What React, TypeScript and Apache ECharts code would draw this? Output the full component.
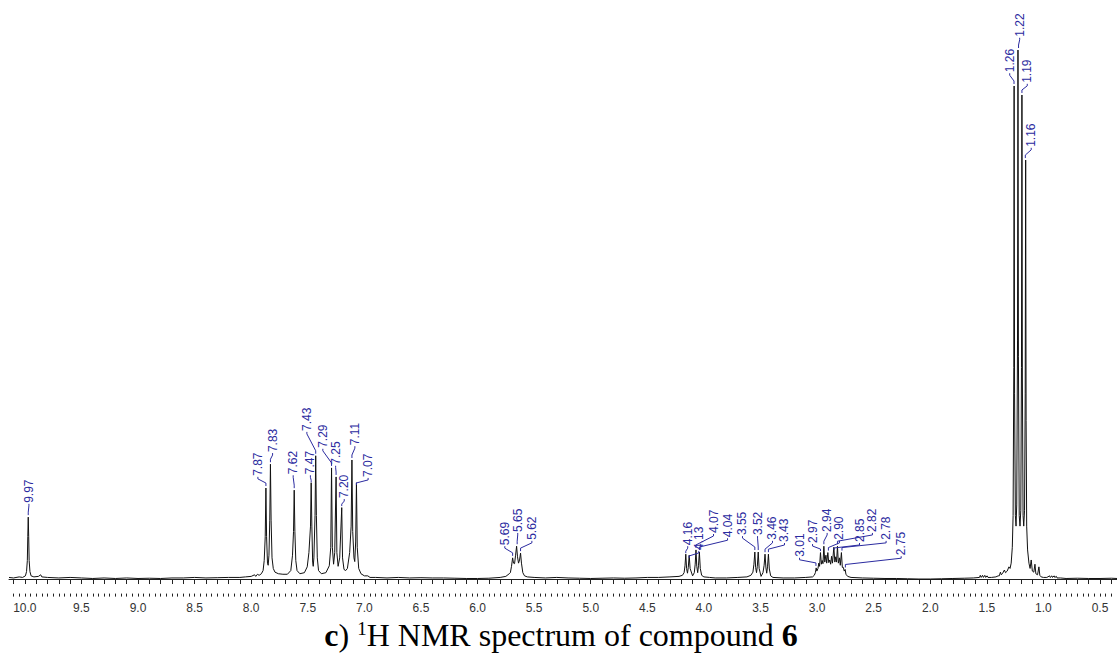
import React, { useEffect, useRef } from "react";
import * as echarts from "echarts";

// Chemical-shift axis (ppm), inverted as in NMR plots
const axisMin = 0.35;
const axisMax = 10.14;
const tickLabels = [10.0, 9.5, 9.0, 8.5, 8.0, 7.5, 7.0, 6.5, 6.0, 5.5, 5.0, 4.5, 4.0, 3.5, 3.0, 2.5, 2.0, 1.5, 1.0, 0.5];

// Spectrum trace: [ppm, relative intensity (1.22 ppm line = 100)]
const baselineLow: [number, number][] = [
  [10.14, 0.3], [10.1, 0.2], [10.05, 0.4], [10.02, 0.3],
];
const aldehyde: [number, number][] = [
  [9.995, 0.6], [9.985, 1.4], [9.978, 3.5], [9.974, 8.0], [9.97, 11.7], [9.966, 8.0], [9.962, 3.5],
  [9.955, 1.4], [9.945, 0.6], [9.92, 0.4], [9.88, 0.5], [9.86, 0.8], [9.85, 0.4], [9.8, 0.3],
  [9.7, 0.2], [9.6, 0.3], [9.5, 0.2], [9.4, 0.1], [9.3, 0.2], [9.2, 0.1], [9.1, 0.2], [9.0, 0.1],
  [8.9, 0.15], [8.8, 0.1], [8.7, 0.2], [8.6, 0.2], [8.5, 0.3], [8.4, 0.2], [8.3, 0.25], [8.2, 0.3],
  [8.1, 0.3], [8.05, 0.4], [8.0, 0.5], [7.97, 0.8], [7.96, 0.5], [7.945, 0.9], [7.93, 0.7], [7.91, 1.0],
];
const aromatic: [number, number][] = [
  [7.895, 1.6], [7.885, 3.5], [7.876, 8], [7.87, 17.2], [7.864, 8], [7.856, 3.0], [7.85, 2.6],
  [7.843, 4.5], [7.836, 11], [7.83, 21.7], [7.824, 11], [7.816, 4], [7.805, 2.0], [7.79, 1.3],
  [7.76, 1.0], [7.72, 0.9], [7.68, 0.9], [7.65, 1.6], [7.635, 4.5], [7.626, 9], [7.62, 16.8],
  [7.614, 9], [7.606, 3.5], [7.595, 1.6], [7.57, 1.0], [7.53, 1.2], [7.505, 2.3], [7.49, 5],
  [7.476, 10], [7.47, 18.2], [7.464, 10], [7.457, 3.2], [7.452, 2.4], [7.446, 4], [7.436, 12],
  [7.43, 23.3], [7.424, 12], [7.416, 4], [7.405, 1.6], [7.38, 1.0], [7.34, 1.2], [7.31, 2.5],
  [7.297, 6], [7.29, 21.0], [7.283, 6], [7.272, 2.8], [7.262, 5], [7.25, 19.3], [7.243, 5],
  [7.232, 2.4], [7.218, 4], [7.2, 13.5], [7.193, 4], [7.18, 1.8], [7.165, 1.6], [7.15, 2.0],
  [7.13, 5], [7.117, 10], [7.11, 22.5], [7.103, 9], [7.092, 4], [7.085, 3.3], [7.077, 7],
  [7.07, 18.2], [7.063, 6], [7.05, 2.0], [7.03, 1.0], [7.0, 0.6], [6.97, 0.6], [6.95, 0.3],
  [6.9, 0.3], [6.8, 0.2], [6.7, 0.3], [6.6, 0.2], [6.5, 0.25], [6.4, 0.2], [6.3, 0.2], [6.2, 0.15],
  [6.1, 0.1], [6.0, 0.1], [5.9, 0.15], [5.8, 0.3], [5.75, 0.5], [5.72, 1.0],
];
const olefinic: [number, number][] = [
  [5.71, 1.2], [5.7, 2.4], [5.69, 4.0], [5.682, 3.0], [5.673, 2.9], [5.664, 4.5], [5.655, 6.2],
  [5.647, 4.2], [5.638, 3.0], [5.629, 3.6], [5.62, 4.9], [5.612, 3.0], [5.6, 1.2], [5.585, 0.6],
  [5.56, 0.4], [5.5, 0.3], [5.4, 0.2], [5.3, 0.3], [5.2, 0.2], [5.1, 0.15], [5.0, 0.1], [4.9, 0.15],
  [4.8, 0.2], [4.7, 0.15], [4.6, 0.2], [4.5, 0.3], [4.4, 0.3], [4.3, 0.4], [4.22, 0.5], [4.19, 0.7],
];
const oxyMethylene: [number, number][] = [
  [4.175, 1.2], [4.167, 2.5], [4.16, 4.7], [4.153, 2.0], [4.145, 1.1], [4.138, 2.2], [4.13, 4.5],
  [4.122, 2.0], [4.1, 0.6], [4.085, 1.2], [4.077, 2.8], [4.07, 5.5], [4.063, 2.4], [4.055, 1.2],
  [4.048, 2.5], [4.04, 5.1], [4.032, 2.0], [4.02, 0.7], [4.0, 0.4], [3.95, 0.3], [3.9, 0.2],
  [3.8, 0.2], [3.7, 0.3], [3.62, 0.4], [3.585, 0.7],
  [3.567, 1.3], [3.558, 2.8], [3.55, 5.1], [3.543, 2.2], [3.535, 1.2], [3.528, 2.4], [3.52, 5.1],
  [3.512, 2.0], [3.495, 0.5], [3.478, 1.2], [3.468, 2.6], [3.46, 4.7], [3.452, 2.1], [3.445, 1.1],
  [3.438, 2.3], [3.43, 4.7], [3.422, 1.9], [3.41, 0.6], [3.39, 0.3], [3.3, 0.2], [3.2, 0.2],
  [3.1, 0.3], [3.04, 0.4], [3.025, 0.7],
];
const multiplet: [number, number][] = [
  [3.015, 1.2], [3.008, 2.1], [3.002, 1.5], [2.992, 2.0], [2.985, 3.0], [2.978, 2.4], [2.97, 5.0],
  [2.962, 2.8], [2.955, 3.5], [2.948, 2.9], [2.94, 6.2], [2.932, 3.2], [2.922, 4.5], [2.915, 3.0],
  [2.905, 5.0], [2.897, 3.1], [2.888, 3.6], [2.88, 2.8], [2.872, 4.3], [2.864, 3.0], [2.852, 6.0],
  [2.843, 3.2], [2.835, 4.2], [2.828, 3.2], [2.82, 6.2], [2.812, 3.0], [2.802, 4.0], [2.795, 2.6],
  [2.785, 5.0], [2.777, 2.2], [2.768, 2.2], [2.76, 1.5], [2.752, 1.8], [2.745, 0.9], [2.73, 0.5],
  [2.7, 0.3], [2.6, 0.2], [2.5, 0.15], [2.4, 0.1], [2.3, 0.1], [2.2, 0.05], [2.1, 0.0], [2.0, 0.0],
  [1.9, 0.05], [1.8, 0.1], [1.7, 0.15], [1.62, 0.2],
];
const aliphatic: [number, number][] = [
  [1.565, 0.3], [1.558, 0.7], [1.55, 0.3], [1.538, 0.7], [1.53, 0.3], [1.518, 0.7], [1.51, 0.3],
  [1.498, 0.6], [1.49, 0.3], [1.46, 0.3], [1.42, 0.4], [1.4, 0.6], [1.39, 0.6], [1.38, 1.3],
  [1.372, 0.8], [1.36, 1.1], [1.345, 1.7], [1.335, 1.2], [1.32, 1.5], [1.305, 2.3], [1.295, 2.0],
  [1.285, 3.0], [1.275, 6], [1.268, 12], [1.262, 40], [1.259, 93.2], [1.255, 35], [1.248, 12],
  [1.242, 10], [1.236, 14], [1.229, 45], [1.225, 100], [1.221, 42], [1.214, 12], [1.207, 10],
  [1.2, 13], [1.194, 40], [1.19, 91.5], [1.186, 38], [1.18, 12], [1.174, 10], [1.167, 13],
  [1.161, 35], [1.157, 79.2], [1.153, 30], [1.148, 10], [1.14, 5.5], [1.128, 3.0], [1.118, 2.0],
  [1.108, 3.6], [1.098, 1.5], [1.085, 1.3], [1.075, 2.8], [1.067, 1.0], [1.052, 0.8], [1.04, 2.3],
  [1.032, 0.7], [1.02, 0.4], [1.0, 0.3], [0.97, 0.3], [0.945, 0.6], [0.94, 0.3], [0.925, 0.6],
  [0.92, 0.3], [0.905, 0.6], [0.9, 0.3], [0.885, 0.5], [0.88, 0.2], [0.85, 0.2], [0.8, 0.1],
  [0.7, 0.15], [0.6, 0.1], [0.5, 0.1], [0.4, 0.15], [0.35, 0.1],
];

// Peak annotations
const labelPpm = [9.97, 7.87, 7.83, 7.62, 7.47, 7.43, 7.29, 7.25, 7.2, 7.11, 7.07, 5.69, 5.65, 5.62, 4.16, 4.13, 4.07, 4.04, 3.55, 3.52, 3.46, 3.43, 3.01, 2.97, 2.94, 2.9, 2.85, 2.82, 2.78, 2.75, 1.26, 1.22, 1.19, 1.16];
const labelApex = [11.7, 17.2, 21.7, 16.8, 18.2, 23.3, 21.0, 19.3, 13.5, 22.5, 18.2, 4.0, 6.2, 4.9, 4.7, 4.5, 5.5, 5.1, 5.1, 5.1, 4.7, 4.7, 2.1, 5.0, 6.2, 5.0, 6.0, 6.2, 5.0, 1.8, 93.2, 100, 91.5, 79.2];
const labelTextPpm = [9.964, 7.941, 7.811, 7.629, 7.477, 7.508, 7.367, 7.254, 7.178, 7.084, 6.967, 5.759, 5.645, 5.52, 4.143, 4.045, 3.915, 3.791, 3.659, 3.526, 3.394, 3.288, 3.155, 3.04, 2.911, 2.802, 2.625, 2.511, 2.39, 2.257, 1.298, 1.21, 1.143, 1.108];
const labelTextLevel = [14.4, 19.5, 24.0, 19.8, 19.8, 28.0, 24.8, 21.6, 15.3, 25.3, 19.3, 6.4, 8.9, 7.4, 6.4, 5.5, 8.7, 7.9, 8.3, 8.3, 7.4, 7.0, 4.2, 6.8, 8.9, 7.4, 7.0, 8.9, 7.4, 4.5, 95.8, 102.5, 93.8, 81.7];

const BLUE = "#2b2ba0";

export default function App() {
  const ref = useRef<HTMLDivElement>(null);
  useEffect(() => {
    if (!ref.current) return;
    const chart = echarts.init(ref.current, undefined, { renderer: "svg" });
    const spectrum = [...baselineLow, ...aldehyde, ...aromatic, ...olefinic, ...oxyMethylene, ...multiplet, ...aliphatic];
    const tick10: number[] = [];
    for (let k = 4; k <= 101; k++) tick10.push(Math.round(k) / 10);
    const tick05: number[] = [];
    for (let k = 7; k <= 202; k++) tick05.push(Math.round(k * 5) / 100);

    const axisCommon = {
      type: "value" as const,
      min: axisMin,
      max: axisMax,
      inverse: true,
      position: "bottom" as const,
      offset: 4,
      splitLine: { show: false },
    };

    chart.setOption({
      animation: false,
      backgroundColor: "#ffffff",
      grid: { left: 9, right: 0, top: 7.7, bottom: 66.4, containLabel: false },
      xAxis: [
        {
          ...axisCommon,
          axisLine: { show: true, lineStyle: { color: "#222", width: 1 } },
          axisTick: { show: true, inside: false, length: 5, customValues: tick10, lineStyle: { color: "#222", width: 1 } },
          axisLabel: {
            show: true,
            customValues: tickLabels,
            margin: 8,
            color: "#333",
            fontSize: 12,
            fontFamily: '"Liberation Sans", Arial, sans-serif',
            formatter: (v: number) => v.toFixed(1),
          },
        },
        {
          ...axisCommon,
          axisLine: { show: false },
          axisTick: { show: true, inside: false, length: 3, customValues: tick05, lineStyle: { color: "#222", width: 1 } },
          axisLabel: { show: false },
        },
      ],
      yAxis: { type: "value", min: -2, max: 108, show: false },
      series: [
        {
          type: "line",
          data: spectrum,
          xAxisIndex: 0,
          showSymbol: false,
          symbol: "none",
          lineStyle: { color: "#111", width: 1 },
          silent: true,
          z: 2,
        },
        {
          type: "custom",
          xAxisIndex: 0,
          data: labelPpm.map((p, i) => [p, labelApex[i]]),
          clip: false,
          z: 3,
          renderItem: (params: any, api: any) => {
            const i = params.dataIndex;
            const peak = api.coord([labelPpm[i], labelApex[i]]);
            const txt = api.coord([labelTextPpm[i], labelTextLevel[i]]);
            const lx = txt[0];
            const tb = txt[1];
            const px = peak[0];
            const e0 = peak[1] - 2;
            const by = tb + 3;
            const cy = Math.max(by + 3, e0 - 3);
            const dy = Math.max(e0, cy + 2);
            return {
              type: "group",
              children: [
                {
                  type: "polyline",
                  shape: { points: [[lx, tb + 1], [lx, by], [px, cy], [px, dy]] },
                  style: { stroke: BLUE, lineWidth: 1, fill: null },
                },
                {
                  type: "text",
                  x: lx,
                  y: tb,
                  rotation: Math.PI / 2,
                  style: {
                    text: labelPpm[i].toFixed(2),
                    fill: BLUE,
                    font: '12px "Liberation Sans", Arial, sans-serif',
                    align: "left",
                    verticalAlign: "middle",
                  },
                },
              ],
            };
          },
        },
      ],
      graphic: [
        {
          type: "text",
          x: 561,
          y: 619,
          style: {
            text: "{b|c}{n|) }{sup|1}{n|H NMR spectrum of compound }{b|6}",
            align: "center",
            verticalAlign: "top",
            rich: {
              b: { fontFamily: '"Liberation Serif", "Times New Roman", serif', fontSize: 32, fontWeight: "bold", fill: "#000", color: "#000" },
              n: { fontFamily: '"Liberation Serif", "Times New Roman", serif', fontSize: 32, fill: "#000", color: "#000" },
              sup: { fontFamily: '"Liberation Serif", "Times New Roman", serif', fontSize: 19, verticalAlign: "top", fill: "#000", color: "#000" },
            },
          },
        },
      ],
    });
    return () => chart.dispose();
  }, []);
  return <div ref={ref} style={{ position: "absolute", left: 0, top: 0, width: 1117, height: 656 }} />;
}
